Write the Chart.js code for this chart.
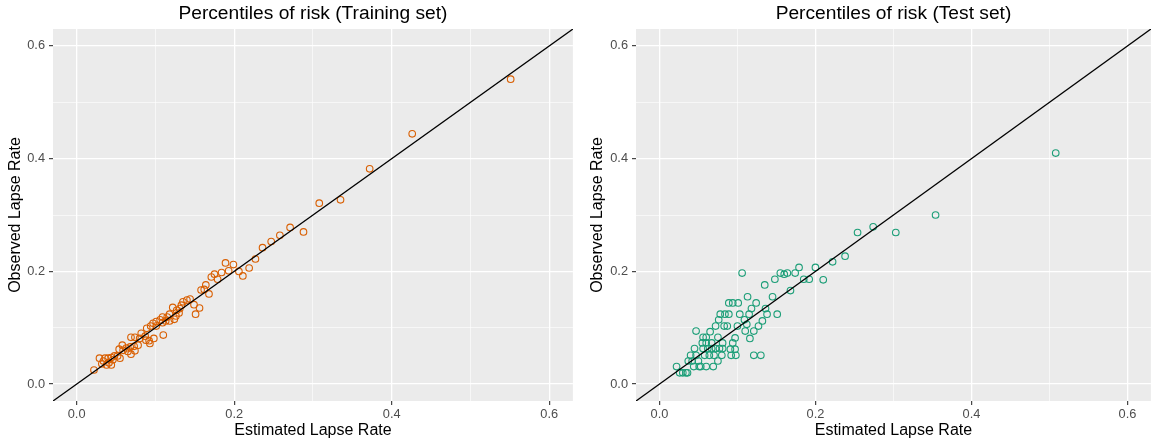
<!DOCTYPE html>
<html>
<head>
<meta charset="utf-8">
<script src="https://cdn.jsdelivr.net/npm/chart.js@4.4.1/dist/chart.umd.min.js"></script>
<style>
  html, body { margin: 0; padding: 0; background: #ffffff; }
  #wrap { position: relative; width: 1156px; height: 444px; overflow: hidden; }
  canvas { position: absolute; top: 0; }
</style>
</head>
<body>
<div id="wrap">
  <canvas id="trainChart" width="578" height="444" style="left:0px"></canvas>
  <canvas id="testChart" width="578" height="444" style="left:578px"></canvas>
</div>
<script>
// Training set: estimated vs observed lapse rate per risk percentile
const trainEst = [0.551, 0.426, 0.372, 0.335, 0.308, 0.288, 0.271, 0.258, 0.247, 0.236,
  0.227, 0.189, 0.199, 0.219, 0.193, 0.206, 0.211, 0.184, 0.175, 0.171,
  0.179, 0.164, 0.158, 0.162, 0.168, 0.156, 0.151, 0.144, 0.140, 0.135,
  0.133, 0.131, 0.127, 0.122, 0.130, 0.126, 0.124, 0.118, 0.115, 0.109,
  0.106, 0.101, 0.113, 0.118, 0.109, 0.097, 0.094, 0.101, 0.110, 0.089,
  0.082, 0.087, 0.074, 0.069, 0.080, 0.088, 0.092, 0.098, 0.093, 0.078,
  0.073, 0.068, 0.063, 0.058, 0.054, 0.059, 0.065, 0.069, 0.074, 0.052,
  0.048, 0.044, 0.040, 0.036, 0.029, 0.034, 0.041, 0.044, 0.038, 0.032,
  0.046, 0.055, 0.022, 0.149];
const trainObs = [0.541, 0.444, 0.382, 0.327, 0.321, 0.270, 0.278, 0.264, 0.253, 0.242,
  0.222, 0.215, 0.212, 0.206, 0.201, 0.200, 0.192, 0.198, 0.195, 0.190,
  0.186, 0.176, 0.167, 0.168, 0.160, 0.135, 0.124, 0.151, 0.149, 0.146,
  0.140, 0.134, 0.131, 0.136, 0.126, 0.121, 0.115, 0.124, 0.119, 0.119,
  0.114, 0.111, 0.112, 0.112, 0.109, 0.108, 0.103, 0.103, 0.087, 0.099,
  0.090, 0.085, 0.083, 0.083, 0.081, 0.078, 0.077, 0.081, 0.072, 0.069,
  0.067, 0.066, 0.064, 0.069, 0.062, 0.060, 0.058, 0.053, 0.059, 0.050,
  0.050, 0.047, 0.046, 0.046, 0.046, 0.041, 0.038, 0.034, 0.034, 0.036,
  0.043, 0.046, 0.025, 0.141];

// Test set: estimated vs observed lapse rate per risk percentile
const testEst = [0.508, 0.354, 0.303, 0.274, 0.254, 0.238, 0.222, 0.210, 0.200, 0.192,
  0.185, 0.179, 0.174, 0.164, 0.160, 0.155, 0.168, 0.106, 0.148, 0.135,
  0.113, 0.145, 0.124, 0.136, 0.151, 0.138, 0.118, 0.089, 0.094, 0.101,
  0.078, 0.084, 0.089, 0.103, 0.115, 0.109, 0.112, 0.127, 0.132, 0.121,
  0.110, 0.116, 0.076, 0.083, 0.087, 0.100, 0.097, 0.072, 0.065, 0.047,
  0.060, 0.056, 0.075, 0.055, 0.060, 0.067, 0.081, 0.094, 0.045, 0.056,
  0.062, 0.067, 0.072, 0.077, 0.081, 0.091, 0.097, 0.040, 0.047, 0.058,
  0.064, 0.070, 0.080, 0.092, 0.098, 0.121, 0.130, 0.037, 0.042, 0.050,
  0.075, 0.044, 0.051, 0.053, 0.060, 0.069, 0.022, 0.026, 0.030, 0.034,
  0.036];
const testObs = [0.410, 0.300, 0.269, 0.279, 0.269, 0.227, 0.217, 0.185, 0.207, 0.186,
  0.186, 0.207, 0.197, 0.197, 0.195, 0.197, 0.166, 0.197, 0.186, 0.176,
  0.155, 0.155, 0.144, 0.134, 0.124, 0.124, 0.134, 0.144, 0.144, 0.144,
  0.124, 0.124, 0.124, 0.124, 0.124, 0.114, 0.106, 0.103, 0.112, 0.094,
  0.094, 0.081, 0.114, 0.103, 0.103, 0.103, 0.082, 0.103, 0.093, 0.094,
  0.083, 0.083, 0.083, 0.073, 0.073, 0.073, 0.073, 0.073, 0.063, 0.063,
  0.063, 0.063, 0.063, 0.063, 0.063, 0.062, 0.062, 0.051, 0.051, 0.051,
  0.051, 0.051, 0.051, 0.051, 0.051, 0.051, 0.051, 0.041, 0.041, 0.041,
  0.041, 0.031, 0.031, 0.031, 0.031, 0.031, 0.031, 0.020, 0.020, 0.020,
  0.020];

// Axis ticks shared by both panels
const gridValues = [0, 0.1, 0.2, 0.3, 0.4, 0.5, 0.6];
const majorTicks = [0, 0.2, 0.4, 0.6];
const majorLabels = ['0.0', '0.2', '0.4', '0.6'];
const axisMin = -0.03;
const axisMax = 0.63;
// Reference line y = x
const refLine = [axisMin, axisMax];

const FONT = '"Liberation Sans", Arial, Helvetica, sans-serif';

function isMajor(v) {
  return majorTicks.some(m => Math.abs(m - v) < 1e-9);
}
function labelFor(v) {
  const i = majorTicks.findIndex(m => Math.abs(m - v) < 1e-9);
  return i >= 0 ? majorLabels[i] : '';
}

const panelBackground = {
  id: 'panelBackground',
  beforeDraw(chart) {
    const { ctx, chartArea: a } = chart;
    ctx.save();
    ctx.fillStyle = '#EBEBEB';
    ctx.fillRect(a.left, a.top, a.right - a.left, a.bottom - a.top);
    ctx.restore();
  }
};

function axisConfig(titleText, isX, size, titlePad) {
  return {
    type: 'linear',
    min: axisMin,
    max: axisMax,
    afterBuildTicks: s => { s.ticks = gridValues.map(v => ({ value: v })); },
    afterFit: s => { if (isX) s.height = size; else s.width = size; },
    border: { display: false },
    grid: {
      color: '#FFFFFF',
      lineWidth: c => (c.tick && isMajor(c.tick.value)) ? 1.3 : 0.6,
      drawTicks: true,
      tickLength: 4,
      tickWidth: 1.1,
      tickColor: c => (c.tick && isMajor(c.tick.value)) ? '#333333' : 'rgba(0,0,0,0)'
    },
    ticks: {
      color: '#4D4D4D',
      font: { family: FONT, size: 12.8 },
      padding: isX ? 1.5 : 4,
      autoSkip: false,
      maxRotation: 0,
      callback: v => labelFor(v)
    },
    title: {
      display: true,
      text: titleText,
      color: '#000000',
      font: { family: FONT, size: 16 },
      padding: titlePad
    }
  };
}

function makeChart(id, titleText, est, obs, color, yAxisWidth, rightPad, yTitlePad) {
  const pts = est.map((x, i) => ({ x: x, y: obs[i] }));
  new Chart(document.getElementById(id), {
    type: 'scatter',
    data: {
      datasets: [
        {
          data: refLine.map(v => ({ x: v, y: v })),
          showLine: true,
          borderColor: '#000000',
          borderWidth: 1.3,
          pointRadius: 0,
          order: 0
        },
        {
          data: pts,
          pointStyle: 'circle',
          pointRadius: 3.3,
          pointBorderWidth: 1.1,
          borderColor: color,
          backgroundColor: 'rgba(0,0,0,0)',
          order: 1
        }
      ]
    },
    options: {
      responsive: false,
      animation: false,
      devicePixelRatio: 1,
      events: [],
      layout: { padding: { left: 0, right: rightPad, top: 0, bottom: 0 } },
      plugins: {
        legend: { display: false },
        tooltip: { enabled: false },
        title: {
          display: true,
          text: titleText,
          fullSize: false,
          color: '#000000',
          font: { family: FONT, size: 19.2, weight: 'normal' },
          padding: { top: 2.5, bottom: 3.5 }
        }
      },
      scales: {
        x: axisConfig('Estimated Lapse Rate', true, 43, { top: 0, bottom: 3.4 }),
        y: axisConfig('Observed Lapse Rate', false, yAxisWidth, { top: yTitlePad, bottom: 0 })
      }
    },
    plugins: [panelBackground]
  });
}

makeChart('trainChart', 'Percentiles of risk (Training set)', trainEst, trainObs, '#D95F02', 53, 5, 6.4);
makeChart('testChart', 'Percentiles of risk (Test set)', testEst, testObs, '#1B9E77', 58, 0, 10.4);
</script>
</body>
</html>
